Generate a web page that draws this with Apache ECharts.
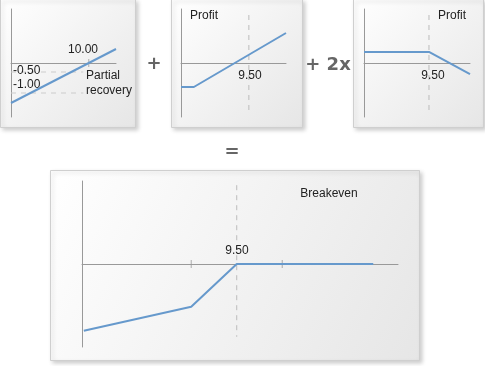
<!DOCTYPE html>
<html><head><meta charset="utf-8">
<script src="https://cdn.jsdelivr.net/npm/echarts@6/dist/echarts.min.js"></script>
<style>html,body{margin:0;padding:0;background:#fff}#c{width:485px;height:366px}</style>
</head><body><div id="c"></div>
<script>
// ---- data ----
// Panel 1: partial recovery
const p1LineX = [0, 13.5];
const p1LineY = [-1.333, 0.467];
const p1Strike = 10;
const p1StrikeLabel = '10.00';
const p1Levels = [-0.3, -1.0];
const p1LevelEnd = 9.3;
const p1LevelLabels = ['-0.50', '-1.00'];
const p1Text = ['Partial', 'recovery'];
// Panel 2: long call-like profit
const p2LineX = [0, 1.8, 14.7];
const p2LineY = [-0.8, -0.8, 1.0];
const p2Strike = 9.5;
const p2StrikeLabel = '9.50';
// Panel 3: short put-like profit (x2)
const p3LineX = [0, 9.5, 15.5];
const p3LineY = [0.367, 0.367, -0.367];
const p3Strike = 9.5;
const p3StrikeLabel = '9.50';
// Panel 4: combined breakeven
const p4LineX = [1.1, 7, 9.5, 17];
const p4LineY = [-2.23, -1.43, 0, 0];
const p4Strike = 9.5;
const p4StrikeLabel = '9.50';
const p4Ticks = [7, 12];
const titles = ['Profit', 'Profit', 'Breakeven'];
const ops = ['+', '+ 2x', '='];

// ---- styles ----
const FONT = '"Liberation Sans", Arial, sans-serif';
const OPFONT = '"DejaVu Sans", Verdana, sans-serif';
const BLUE = '#6699cc';
const AXIS = '#999';
const TXT = '#222';

const zip = (xs, ys) => xs.map((x, i) => [x, ys[i]]);

const grids = [
  {left: 11, top: 9, width: 105, height: 108},
  {left: 181, top: 9, width: 105, height: 108},
  {left: 364, top: 9, width: 106, height: 108},
  {left: 82, top: 181, width: 316, height: 166}
];
const xr = [[0, 13.5], [0, 14.7], [0, 15.5], [1, 18.36]];
const yr = [[-1.8, 1.8], [-1.8, 1.8], [-1.8, 1.8], [-2.77, 2.77]];

const xAxis = xr.map((r, i) => ({
  type: 'value', gridIndex: i, min: r[0], max: r[1],
  axisLine: {show: true, onZero: true, lineStyle: {color: AXIS, width: 1}},
  axisTick: {show: false}, axisLabel: {show: false}, splitLine: {show: false}
}));
const yAxis = yr.map((r, i) => ({
  type: 'value', gridIndex: i, min: r[0], max: r[1],
  axisLine: {show: true, onZero: false, lineStyle: {color: AXIS, width: 1}},
  axisTick: {show: false}, axisLabel: {show: false}, splitLine: {show: false}
}));

function mainLine(i, data) {
  return {type: 'line', xAxisIndex: i, yAxisIndex: i, data, showSymbol: false, silent: true,
    lineStyle: {color: BLUE, width: 2}, z: 5, animation: false};
}
function dashLine(i, data, color) {
  return {type: 'line', xAxisIndex: i, yAxisIndex: i, data, showSymbol: false, silent: true,
    lineStyle: {color: color || '#bbb', width: 1, type: [5, 5]}, z: 3, animation: false};
}
function ticks(i, xs) {
  return {type: 'scatter', xAxisIndex: i, yAxisIndex: i, data: xs.map(x => [x, 0]),
    symbol: 'rect', symbolSize: [1, 8], itemStyle: {color: AXIS}, silent: true, z: 4, animation: false};
}

const series = [
  ...p1Levels.map(v => dashLine(0, [[0, v], [p1LevelEnd, v]], '#ccc')),
  ticks(0, [p1Strike]),
  mainLine(0, zip(p1LineX, p1LineY)),
  dashLine(1, [[p2Strike, 1.6], [p2Strike, -1.73]]),
  mainLine(1, zip(p2LineX, p2LineY)),
  dashLine(2, [[p3Strike, 1.6], [p3Strike, -1.73]]),
  mainLine(2, zip(p3LineX, p3LineY)),
  dashLine(3, [[p4Strike, 2.63], [p4Strike, -2.43]]),
  ticks(3, p4Ticks),
  mainLine(3, zip(p4LineX, p4LineY))
];

function panel(x, y, w, h) {
  return {type: 'rect', z: -10, silent: true,
    shape: {x: x + 0.5, y: y + 0.5, width: w, height: h},
    style: {
      fill: new echarts.graphic.LinearGradient(0, 0, 1, 1, [
        {offset: 0, color: '#ffffff'}, {offset: 1, color: '#e6e6e6'}]),
      stroke: '#cfcfcf', lineWidth: 1,
      shadowBlur: 4, shadowOffsetX: 2, shadowOffsetY: 2, shadowColor: 'rgba(0,0,0,0.18)'
    }};
}
function txt(s, x, y, align, opt) {
  return Object.assign({type: 'text', z: 10, silent: true, x, y,
    style: {text: s, fill: TXT, font: '12px ' + FONT, textAlign: align || 'center', textVerticalAlign: 'middle'}}, opt || {});
}
function op(s, x, y) {
  return {type: 'text', z: 10, silent: true, x, y,
    style: {text: s, fill: '#666', font: 'bold 18px ' + OPFONT, textAlign: 'center', textVerticalAlign: 'middle'}};
}

const graphic = [
  panel(0, -1, 135, 128),
  panel(171, -1, 131, 128),
  panel(353, -1, 130, 128),
  panel(50, 170, 369, 190),
  txt(p1StrikeLabel, 83, 50),
  txt(p1LevelLabels[0], 13, 71, 'left'),
  txt(p1LevelLabels[1], 13, 85, 'left'),
  txt(p1Text[0], 86, 76, 'left'),
  txt(p1Text[1], 86, 91, 'left'),
  txt(titles[0], 204, 16),
  txt(p2StrikeLabel, 250, 76),
  txt(titles[1], 452, 16),
  txt(p3StrikeLabel, 433, 76),
  txt(titles[2], 329, 194),
  txt(p4StrikeLabel, 237, 251),
  op(ops[0], 154, 64),
  op(ops[1], 328, 65),
  op(ops[2], 232, 152)
];

const chart = echarts.init(document.getElementById('c'), null, {renderer: 'canvas'});
chart.setOption({
  animation: false,
  backgroundColor: '#fff',
  grid: grids.map(g => Object.assign({containLabel: false}, g)),
  xAxis, yAxis, series, graphic
});
</script></body></html>
